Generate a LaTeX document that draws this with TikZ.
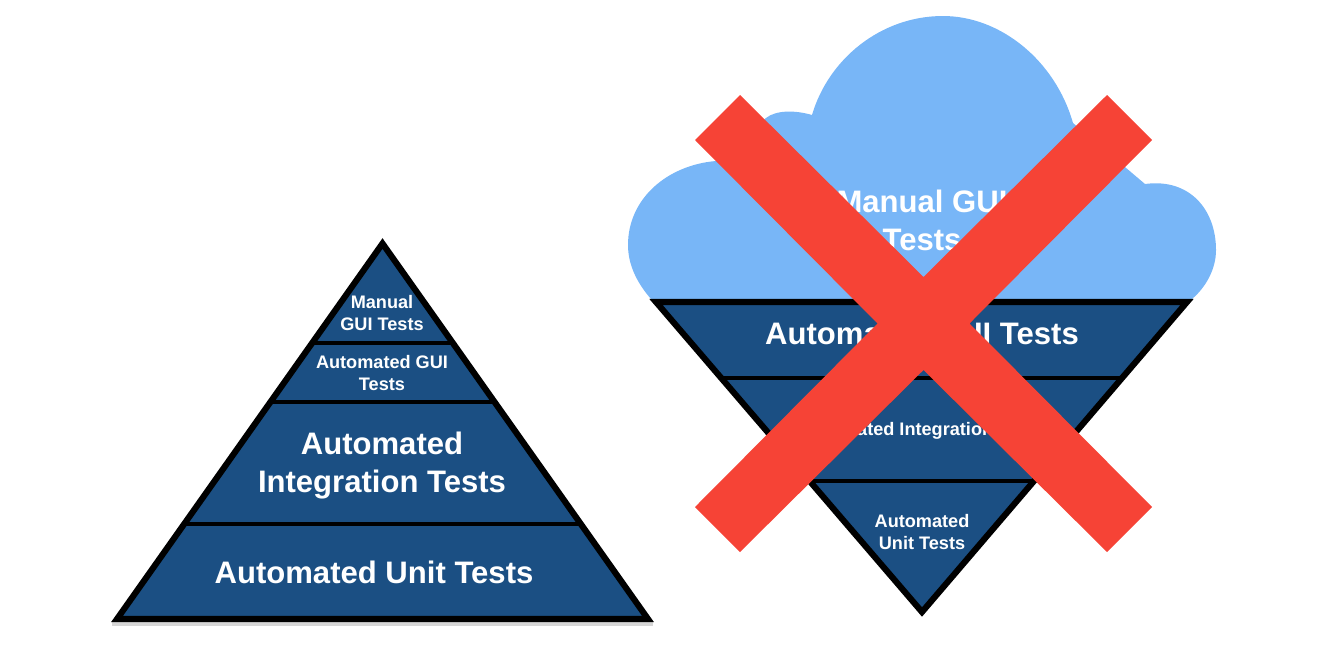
\documentclass[tikz,border=0pt]{standalone}
\usepackage{fontspec}
\setmainfont{Liberation Sans}
\definecolor{navy}{HTML}{1B4F83}
\definecolor{cloudblue}{HTML}{78B6F7}
\definecolor{crossred}{HTML}{F64336}
\tikzset{
  tier/.style={fill=navy,draw=black,line width=4.6pt,line join=miter},
  sep/.style={draw=black,line width=3.7pt},
  shade/.style={draw=black!40,line width=3pt,opacity=.4},
  lbl/.style={text=white,align=center,font=\bfseries,inner sep=0pt},
  mid/.style={lbl,font=\fontsize{23.3}{28.5}\selectfont\bfseries},
  small/.style={lbl,font=\fontsize{13.6}{16.5}\selectfont\bfseries}
}
\begin{document}
\begin{tikzpicture}[x=0.75pt,y=-0.75pt]
\useasboundingbox (0,0) rectangle (1338,647);
% cloud
\fill[cloudblue] (651,299)
  .. controls (638,284) and (628,266) .. (628,245)
  .. controls (628,198) and (668,165) .. (716,161)
  -- (766,118)
  .. controls (776,110) and (795,110) .. (812,115)
  .. controls (828,60) and (880,16) .. (943,16)
  .. controls (1000,16) and (1055,60) .. (1073,123)
  -- (1145,184)
  .. controls (1190,178) and (1216,210) .. (1216,250)
  .. controls (1216,270) and (1205,288) .. (1192,299) -- cycle;
\node[mid] (cloudtxt) at (922,220) {Manual GUI\\Tests};
% left pyramid
\draw[shade] (112,624) -- (653,624);
\draw[tier] (382.5,243.5) -- (648,619) -- (117,619) -- cycle;
\draw[sep] (184,524) -- (581,524);
\draw[sep] (270,402) -- (494,402);
\draw[sep] (312,343) -- (452,343);
\node[small] (a1) at (382,313) {Manual\\GUI Tests};
\node[small] (a2) at (382,373) {Automated GUI\\Tests};
\node[mid] (a3) at (382,466) {Automated\\Integration Tests};
\node[mid] (a4) at (374,572) {Automated Unit Tests};
% inverted pyramid
\draw[tier] (656,302) -- (1187,302) -- (922,612) -- cycle;
\draw[sep] (722,378) -- (1122,378);
\draw[sep] (810,481) -- (1034,481);
\node[mid] (b1) at (922,333) {Automated GUI Tests};
\node[small] (b2) at (922,431) {Automated Integration Tests};
\node[small] (b3) at (922,532) {Automated\\Unit Tests};
% cross
\fill[crossred] (740,95) -- (923.5,277) -- (1107,95) -- (1152,140) -- (969.5,323.5)
  -- (1152,507) -- (1107,552) -- (923.5,370) -- (740,552) -- (695,507)
  -- (877.5,323.5) -- (695,140) -- cycle;
\end{tikzpicture}
\end{document}
